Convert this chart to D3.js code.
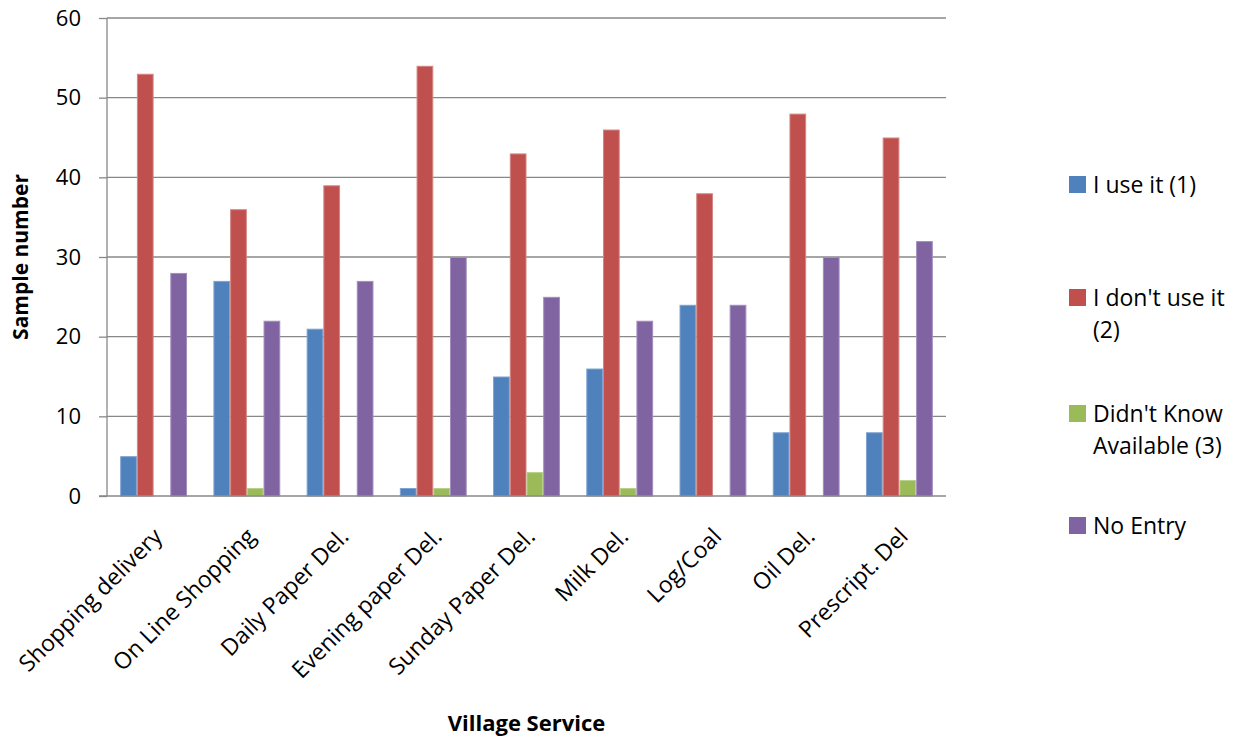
<!DOCTYPE html>
<html><head><meta charset="utf-8">
<script src="https://cdn.jsdelivr.net/npm/d3@7"></script>
<style>body{margin:0;background:#fff}svg{display:block;font-family:"Open Sans",sans-serif}</style>
</head><body>
<script>
const categories = ["Shopping delivery","On Line Shopping","Daily Paper Del.","Evening paper Del.","Sunday Paper Del.","Milk Del.","Log/Coal","Oil Del.","Prescript. Del"];
const seriesNames = ["I use it (1)","I don't use it (2)","Didn't Know Available (3)","No Entry"];
const useIt     = [5,27,21,1,15,16,24,8,8];
const dontUse   = [53,36,39,54,43,46,38,48,45];
const didntKnow = [0,1,0,1,3,1,0,0,2];
const noEntry   = [28,22,27,30,25,22,24,30,32];
const yTicks = [0,10,20,30,40,50,60];
const colors = ["#4F81BD","#C0504D","#9BBB59","#8064A2"];
const edge = ["#7FA3D0","#D48582","#B8D08A","#A38DBE"];
const legendLines = [["I use it (1)"],["I don't use it","(2)"],["Didn't Know","Available (3)"],["No Entry"]];

const series = [useIt, dontUse, didntKnow, noEntry];
const W = 1255, H = 743;
const m = {left:107, right:946, top:18, bottom:496};
const svg = d3.select("body").append("svg").attr("width",W).attr("height",H);

const x = d3.scaleBand().domain(categories).range([m.left,m.right]).paddingInner(0.283).paddingOuter(0.1415);
const xs = d3.scaleBand().domain(d3.range(4)).range([0,x.bandwidth()]);
const y = d3.scaleLinear().domain([0,60]).range([m.bottom,m.top]);

// gridlines
svg.append("g").selectAll("line").data(yTicks.filter(d=>d>0)).join("line")
  .attr("x1",m.left).attr("x2",m.right).attr("y1",d=>y(d)).attr("y2",d=>y(d))
  .attr("stroke","#888").attr("stroke-width",1.3);

// bars
series.forEach((vals,si)=>{
  svg.append("g").selectAll("rect").data(vals.map((v,i)=>({c:categories[i],v})).filter(d=>d.v>0)).join("rect")
    .attr("x",d=>x(d.c)+xs(si)+0.5).attr("width",xs.bandwidth()-1)
    .attr("y",d=>y(d.v)+0.5).attr("height",d=>y(0)-y(d.v)-0.5)
    .attr("fill",colors[si]).attr("stroke",edge[si]).attr("stroke-width",1);
});

// y axis
const ya = svg.append("g").attr("transform",`translate(${m.left},0)`)
  .call(d3.axisLeft(y).tickValues(yTicks).tickSize(8).tickPadding(18).tickFormat(d3.format("d")));
ya.select(".domain").attr("stroke","#888").attr("stroke-width",1.3).attr("d",`M0,${m.top}V${m.bottom}`);
ya.selectAll(".tick line").attr("stroke","#888").attr("stroke-width",1.3);
ya.selectAll(".tick text").attr("font-size",22).attr("fill","#000").attr("font-family","Open Sans");

// x axis line
svg.append("line").attr("x1",m.left-8).attr("x2",m.right).attr("y1",y(0)).attr("y2",y(0)).attr("stroke","#888").attr("stroke-width",1.3);

// x labels
svg.append("g").selectAll("text").data(categories).join("text")
  .attr("transform",d=>`translate(${x(d)+x.bandwidth()/2+10},${m.bottom+42}) rotate(-45)`)
  .attr("text-anchor","end").attr("font-size",23).attr("fill","#000").text(d=>d);

// axis titles
svg.append("text").attr("transform",`translate(${(m.left+m.right)/2},731)`).attr("text-anchor","middle")
  .attr("font-size",22).attr("font-weight","bold").text("Village Service");
svg.append("text").attr("transform",`translate(28,${(m.top+m.bottom)/2}) rotate(-90)`).attr("text-anchor","middle")
  .attr("font-size",21).attr("font-weight","bold").text("Sample number");

// legend
const ly = [176,289,405,517];
const lg = svg.append("g");
legendLines.forEach((lines,i)=>{
  lg.append("rect").attr("x",1069).attr("y",ly[i]).attr("width",17).attr("height",17).attr("fill",colors[i]);
  const t = lg.append("text").attr("x",1093).attr("y",ly[i]+17).attr("font-size",23).attr("fill","#000");
  lines.forEach((l,j)=>t.append("tspan").attr("x",1093).attr("dy",j===0?0:32).text(l));
});
</script>
</body></html>
